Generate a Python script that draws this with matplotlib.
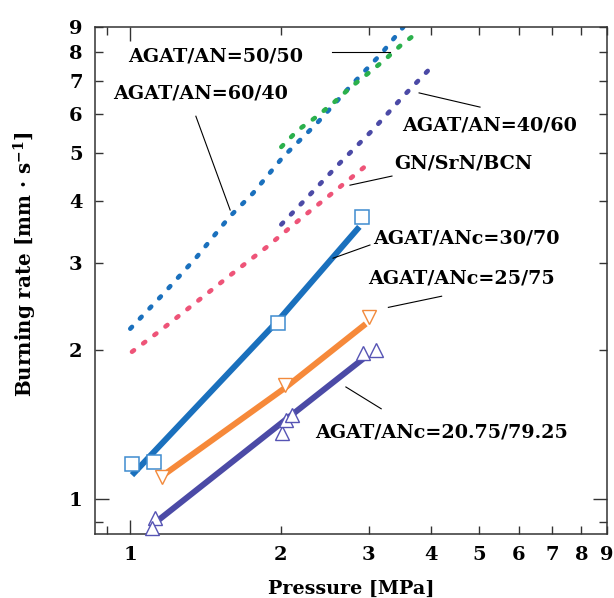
import matplotlib.pyplot as plt
from matplotlib.ticker import FixedLocator, FuncFormatter

plt.rcParams['font.family'] = 'DejaVu Serif'
plt.rcParams['font.weight'] = 'bold'
plt.rcParams['axes.labelweight'] = 'bold'
plt.rcParams['mathtext.fontset'] = 'dejavuserif'
plt.rcParams['mathtext.default'] = 'bf'

# ---- datos (presión en MPa, velocidad en mm/s) ----
# curvas punteadas
p_6040 = [1.0, 1.165, 1.36, 1.58, 1.76, 2.02, 2.36, 2.75, 3.18, 3.52]
r_6040 = [2.21, 2.60, 3.09, 3.72, 4.15, 4.91, 5.74, 6.81, 7.95, 9.0]

p_5050 = [2.006, 2.166, 2.356, 2.563, 2.767, 2.986, 3.224, 3.481, 3.786]
r_5050 = [5.15, 5.57, 5.92, 6.35, 6.81, 7.24, 7.71, 8.27, 8.82]

p_4060 = [2.006, 2.25, 2.623, 3.055, 3.534, 3.977]
r_4060 = [3.59, 4.05, 4.77, 5.57, 6.55, 7.41]

p_gn = [1.008, 1.148, 1.348, 1.582, 1.874, 2.216, 2.602, 2.942]
r_gn = [1.985, 2.19, 2.49, 2.83, 3.23, 3.72, 4.24, 4.69]

# ajustes (líneas sólidas)
p_3070_fit = [1.008, 1.98, 2.874]
r_3070_fit = [1.118, 2.30, 3.55]
p_2575_fit = [1.165, 2.044, 2.96]
r_2575_fit = [1.118, 1.68, 2.26]
p_2075_fit = [1.139, 2.05, 2.96]
r_2075_fit = [0.907, 1.449, 1.94]

# mediciones (marcadores)
p_3070 = [1.008, 1.118, 1.976, 2.91]
r_3070 = [1.177, 1.186, 2.27, 3.71]
p_2575 = [1.16, 2.044, 3.0]
r_2575 = [1.11, 1.70, 2.33]
p_2075 = [1.121, 1.105, 2.016, 2.054, 2.11, 2.92, 3.10]
r_2075 = [0.914, 0.873, 1.357, 1.444, 1.477, 1.97, 2.0]

x_minor = [0.9, 2, 3, 4, 5, 6, 7, 8, 9]
y_minor = [0.9, 2, 3, 4, 5, 6, 7, 8, 9]

AZUL = '#1a70bd'
VERDE = '#2bb04c'
VIOLETA = '#4b4aa6'
ROSA = '#ee5478'
NARANJA = '#f6893a'

fig = plt.figure(figsize=(6.14, 5.98), dpi=100)
ax = fig.add_axes([95 / 614, 64 / 598, 512 / 614, 507 / 598])
ax.set_xscale('log')
ax.set_yscale('log')

punteado = dict(lw=3.3, linestyle=(0, (0.55, 2.5)), dash_capstyle='round')
ax.plot(p_6040, r_6040, color=AZUL, **punteado)
ax.plot(p_5050, r_5050, color=VERDE, **punteado)
ax.plot(p_4060, r_4060, color=VIOLETA, **punteado)
ax.plot(p_gn, r_gn, color=ROSA, **punteado)

ax.plot(p_3070_fit, r_3070_fit, color=AZUL, lw=4.3, solid_capstyle='butt')
ax.plot(p_2575_fit, r_2575_fit, color=NARANJA, lw=4.3, solid_capstyle='butt')
ax.plot(p_2075_fit, r_2075_fit, color=VIOLETA, lw=4.3, solid_capstyle='butt')

ax.plot(p_3070, r_3070, ls='none', marker='s', ms=9.5, mfc='white', mec='#3f8ccf', mew=1.1, zorder=5)
ax.plot(p_2575, r_2575, ls='none', marker='v', ms=10.5, mfc='white', mec='#f28a3c', mew=1.0, zorder=5)
ax.plot(p_2075, r_2075, ls='none', marker='^', ms=10.5, mfc='white', mec='#5654b4', mew=1.0, zorder=5,
        clip_on=False)

ax.set_xlim(0.85, 9)
ax.set_ylim(0.85, 9)

for eje, menores in ((ax.xaxis, x_minor), (ax.yaxis, y_minor)):
    eje.set_major_locator(FixedLocator([1]))
    eje.set_minor_locator(FixedLocator(menores))
    eje.set_major_formatter(FuncFormatter(lambda v, pos: '%d' % round(v)))
    eje.set_minor_formatter(FuncFormatter(lambda v, pos: '%d' % round(v) if v >= 2 else ''))

ax.tick_params(which='both', direction='in', top=True, right=True, color='#333333',
               width=1.0, labelsize=14, pad=9)
ax.tick_params(which='major', length=10)
ax.tick_params(which='minor', length=5.5)
for s in ax.spines.values():
    s.set_color('#333333')
    s.set_linewidth(1.1)

ax.set_xlabel('Pressure [MPa]', fontsize=13.8, fontweight='bold', labelpad=11)
fig.text(25 / 614, 1 - 264 / 598, 'Burning rate [mm · s$^{-1}$]', rotation=90,
         fontsize=14.3, fontweight='bold', ha='center', va='center')

# etiquetas con líneas guía (coordenadas en fracción de ejes)
etiquetas = [
    ('AGAT/AN=50/50', (0.0645, 0.941), (0.463, 0.951), (0.576, 0.951)),
    ('AGAT/AN=60/40', (0.035, 0.868), (0.197, 0.824), (0.264, 0.639)),
    ('AGAT/AN=40/60', (0.600, 0.805), (0.633, 0.870), (0.752, 0.842)),
    ('GN/SrN/BCN', (0.584, 0.730), (0.498, 0.688), (0.580, 0.706)),
    ('AGAT/ANc=30/70', (0.543, 0.582), (0.465, 0.544), (0.537, 0.570)),
    ('AGAT/ANc=25/75', (0.533, 0.503), (0.573, 0.447), (0.677, 0.469)),
    ('AGAT/ANc=20.75/79.25', (0.430, 0.201), (0.490, 0.290), (0.559, 0.247)),
]
for texto, (tx, ty), a, b in etiquetas:
    ax.text(tx, ty, texto, transform=ax.transAxes, fontsize=13.8, ha='left', va='center')
    ax.plot([a[0], b[0]], [a[1], b[1]], transform=ax.transAxes, color='black', lw=0.8)

fig.savefig('out.png', dpi=100)
